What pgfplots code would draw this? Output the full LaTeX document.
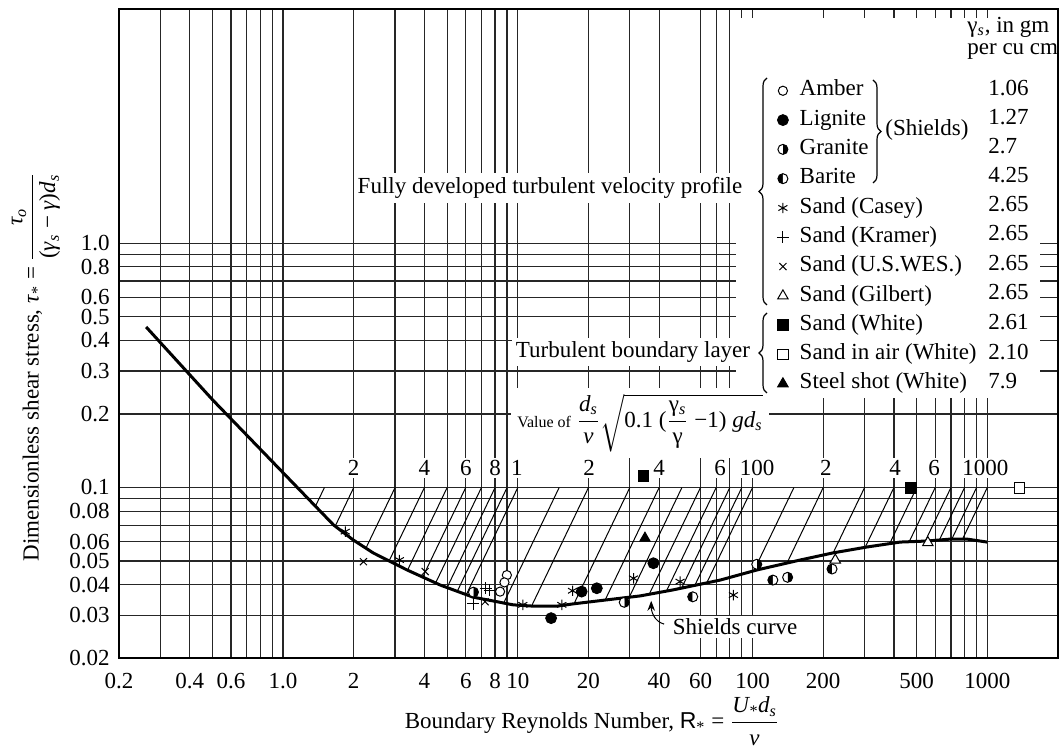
\documentclass[border=0pt]{standalone}
\usepackage{amsmath}
\usepackage{fontspec}
\setmainfont{Liberation Serif}
\setsansfont{Liberation Sans}
\usepackage{pgfplots}
\pgfplotsset{compat=1.18}
\usetikzlibrary{decorations.pathreplacing, arrows.meta, plotmarks}

\begin{document}
\begin{tikzpicture}[font=\fontsize{11.5}{13.8}\selectfont]
\path[use as bounding box] (0,0) rectangle (531pt,374.5pt);
\begin{axis}[
  at={(59.5pt,45.35pt)}, anchor=south west,
  scale only axis, width=469.5pt, height=324.65pt,
  xmode=log, ymode=log,
  xmin=0.2, xmax=2000, ymin=0.02, ymax=9.09,
  xtick={0.2,0.3,0.4,0.5,0.6,0.7,0.8,0.9,1,2,3,4,5,6,7,8,9,10,20,30,40,60,70,80,90,100,200,300,400,500,600,700,800,900,1000},
  xticklabels={0.2,,0.4,,0.6,,,,1.0,2,,4,,6,,8,,10,20,,40,60,,,,100,200,,,500,,,,,1000},
  ytick={0.02,0.03,0.04,0.05,0.06,0.07,0.08,0.09,0.1,0.2,0.3,0.4,0.5,0.6,0.7,0.8,0.9,1},
  yticklabels={0.02,0.03,0.04,0.05,0.06,,0.08,,0.1,0.2,0.3,0.4,0.5,0.6,,0.8,,1.0},
  xmajorgrids, ymajorgrids,
  major grid style={line width=0.6pt, black!85},
  major tick length=0pt, minor tick length=0pt,
  tick style={draw=none},
  axis line style={line width=0.8pt},
  tick label style={font=\fontsize{11.5}{13.8}\selectfont},
  xticklabel style={yshift=-4pt},
  yticklabel style={inner sep=0pt, text height=7.4pt, text depth=0pt, xshift=-4.5pt},
  legend cell align=left,
  legend style={at={(rel axis cs:0.6997,0.8907)}, anchor=north west, draw=none, fill=none,
    inner sep=0pt, row sep=4.25pt, column sep=5.15pt,
    font=\fontsize{11.5}{13.8}\selectfont,
    nodes={inner sep=0pt, text height=7.8pt, text depth=2.6pt}},
  legend image code/.code={\path (-3pt,0pt) (3pt,0pt); \draw[#1] plot coordinates {(0pt,0pt)};},
  every axis plot/.append style={line width=0.5pt, black},
]
% white areas over the grid
\fill[white] (rel axis cs:0.6571,0.4009) rectangle (rel axis cs:0.9808,0.9861);
\node[fill=white, inner sep=2pt] at (rel axis cs:0.459,0.7243) {Fully developed turbulent velocity profile};
\node[fill=white, inner sep=2pt] at (rel axis cs:0.5474,0.4717) {Turbulent boundary layer};
\node[fill=white, inner sep=3pt] at (rel axis cs:0.5548,0.3624) {{\fontsize{8}{9}\selectfont Value of} $\dfrac{\text{\itshape d\textsubscript{s}}}{\text{\itshape ν}}\sqrt{\text{0.1 (}\dfrac{\text{γ\textsubscript{\itshape s}}}{\text{γ}}\text{ −1) \itshape gd\textsubscript{s}}}$};
% secondary scale labels
\node[fill=white, inner sep=1pt] at (axis cs:2,0.1202) {2};
\node[fill=white, inner sep=1pt] at (axis cs:4,0.1202) {4};
\node[fill=white, inner sep=1pt] at (axis cs:6,0.1202) {6};
\node[fill=white, inner sep=1pt] at (axis cs:8,0.1202) {8};
\node[fill=white, inner sep=1pt] at (axis cs:9.9,0.1202) {1};
\node[fill=white, inner sep=1pt] at (axis cs:20.1,0.1202) {2};
\node[fill=white, inner sep=1pt] at (axis cs:40,0.1202) {4};
\node[fill=white, inner sep=1pt] at (axis cs:72.8,0.1202) {6};
\node[fill=white, inner sep=1pt] at (axis cs:104.6,0.1202) {100};
\node[fill=white, inner sep=1pt] at (axis cs:205,0.1202) {2};
\node[fill=white, inner sep=1pt] at (axis cs:405,0.1202) {4};
\node[fill=white, inner sep=1pt] at (axis cs:594,0.1202) {6};
\node[fill=white, inner sep=1pt] at (axis cs:980,0.1202) {1000};
\node[fill=white, inner sep=1.5pt] at (axis cs:84.3,0.0269) {Shields curve};

% Shields curve
\addplot[forget plot, line width=1.5pt, black] coordinates {
(0.261,0.454)(0.502,0.228)(1.64,0.0703)(1.99,0.061)(2.42,0.054)(3.37,0.046)(4.67,0.0399)
(6.44,0.0356)(7.4,0.0347)(9.55,0.0331)(11.6,0.0327)(14.7,0.0327)(17.2,0.0334)(24.0,0.0347)
(33.2,0.036)(45.8,0.0381)(72.8,0.0418)(104.6,0.046)(159.5,0.0505)(220,0.054)(307.6,0.0571)
(425,0.0598)(554,0.0604)(695,0.0615)(820,0.0615)(998,0.0598)};

% hatch lines (constant d_s/nu sqrt(0.1(gs/g-1) g d_s))
\addplot[forget plot, line width=0.5pt, black, unbounded coords=jump] coordinates {
(1.5,0.1)(1.373,0.0838)(nan,nan)
(2,0.1)(1.663,0.0691)(nan,nan)
(3,0.1)(2.254,0.0565)(nan,nan)
(4,0.1)(2.83,0.0501)(nan,nan)
(5,0.1)(3.39,0.0459)(nan,nan)
(6,0.1)(3.934,0.043)(nan,nan)
(7,0.1)(4.46,0.0406)(nan,nan)
(8,0.1)(5.0,0.039)(nan,nan)
(9,0.1)(5.52,0.0376)(nan,nan)
(10,0.1)(6.03,0.0364)(nan,nan)
(15,0.1)(8.71,0.0337)(nan,nan)
(20,0.1)(11.44,0.0327)(nan,nan)
(30,0.1)(17.34,0.0334)(nan,nan)
(40,0.1)(23.53,0.0346)(nan,nan)
(50,0.1)(29.8,0.0355)(nan,nan)
(60,0.1)(36.25,0.0365)(nan,nan)
(70,0.1)(42.9,0.0376)(nan,nan)
(80,0.1)(49.8,0.0387)(nan,nan)
(90,0.1)(56.7,0.0397)(nan,nan)
(100,0.1)(63.8,0.0407)(nan,nan)
(150,0.1)(101.1,0.0455)(nan,nan)
(200,0.1)(139.9,0.0489)(nan,nan)
(300,0.1)(220.4,0.054)(nan,nan)
(400,0.1)(301.7,0.0569)(nan,nan)
(500,0.1)(383.7,0.0589)(nan,nan)
(600,0.1)(464.8,0.06)(nan,nan)
(700,0.1)(544,0.0604)(nan,nan)
(800,0.1)(624.8,0.061)(nan,nan)
(900,0.1)(705.8,0.0615)(nan,nan)
(1000,0.1)(784.2,0.0615)};

% data
\addplot[only marks, mark=*, mark size=2.3pt, mark options={fill=white}] coordinates {(8.98,0.0438)(8.77,0.0409)(8.4,0.0375)};
\addlegendentry{Amber}
\addplot[only marks, mark=*, mark size=2.7pt, mark options={fill=black}] coordinates {(13.86,0.0292)(18.7,0.0375)(21.7,0.0387)(37.8,0.049)};
\addlegendentry{Lignite}
\addplot[only marks, mark=halfcircle*, mark size=2.5pt, mark options={rotate=-90, fill=black}] coordinates {(6.47,0.0373)(28.4,0.0339)(104.2,0.0485)(141,0.0429)};
\addlegendentry{Granite}
\addplot[only marks, mark=halfcircle*, mark size=2.5pt, mark options={rotate=90, fill=black}] coordinates {(55.6,0.0357)(122,0.0418)(218,0.0464)};
\addlegendentry{Barite}
\addplot[only marks, mark=asterisk, mark size=2.6pt] coordinates {(1.84,0.066)(3.13,0.0505)(10.5,0.0331)(15.4,0.0331)(17.1,0.0378)(31.1,0.0425)(49.1,0.0412)(82.9,0.0363)};
\addlegendentry{Sand (Casey)}
\addplot[only marks, mark=+, mark size=3pt] coordinates {(7.3,0.0387)(7.6,0.038)(6.45,0.0335)};
\addlegendentry{Sand (Kramer)}
\addplot[only marks, mark=x, mark size=2.5pt] coordinates {(2.20,0.0497)(4.03,0.0453)(7.25,0.0341)};
\addlegendentry{Sand (U.S.WES.)}
\addplot[only marks, mark=triangle*, mark size=3pt, mark options={fill=white}] coordinates {(225,0.0505)(558,0.0595)};
\addlegendentry{Sand (Gilbert)}
\addplot[only marks, mark=square*, mark size=2.7pt, mark options={fill=black}] coordinates {(34.3,0.1118)(472,0.0999)};
\addlegendentry{Sand (White)}
\addplot[only marks, mark=square*, mark size=2.7pt, mark options={fill=white}] coordinates {(1371,0.0999)};
\addlegendentry{Sand in air (White)}
\addplot[only marks, mark=triangle*, mark size=3pt, mark options={fill=black}] coordinates {(34.8,0.062)};
\addlegendentry{Steel shot (White)}

\draw[-{Stealth[length=5pt]}, line width=0.5pt] (axis cs:42,0.0276) to[out=165,in=-90] (axis cs:37,0.0344);
\end{axis}

\begin{scope}[x=0.5pt, y=-0.5pt, yshift=374.5pt]
  \draw[line width=0.6pt, decorate, decoration={brace, amplitude=4pt}] (767,305) -- (767,78);
  \draw[line width=0.6pt, decorate, decoration={brace, amplitude=4pt}] (873,80) -- (873,183);
  \draw[line width=0.6pt, decorate, decoration={brace, amplitude=4pt}] (767,393) -- (767,313);
  \node[anchor=west, inner sep=0pt] at (885,130) {(Shields)};
  \node[anchor=west, inner sep=0pt] at (967,27) {γ\textsubscript{\itshape s}, in gm};
  \node[anchor=west, inner sep=0pt] at (967,52) {per cu cm};
  \foreach \yy/\v in {88/1.06,117/1.27,146/2.7,175/4.25,204/2.65,233/2.65,263/2.65,292/2.65,322/2.61,352/2.10,381/7.9}{
    \node[anchor=west, inner sep=0pt] at (988,\yy) {\v};
  }
  \node[rotate=90, anchor=west, inner sep=0pt] at (36,562) {Dimensionless shear stress, \textit{τ}\textsubscript{*} = $\dfrac{\text{\itshape τ\textsubscript{o}}}{\text{(\itshape γ\textsubscript{s}\upshape\ − \itshape γ\upshape)\itshape d\textsubscript{s}}}$};
  \node at (592,721) {Boundary Reynolds Number, \textsf{R}\textsubscript{*} = $\dfrac{\text{\itshape U\textsubscript{*}d\textsubscript{s}}}{\text{\itshape ν}}$};
\end{scope}
\end{tikzpicture}
\end{document}
